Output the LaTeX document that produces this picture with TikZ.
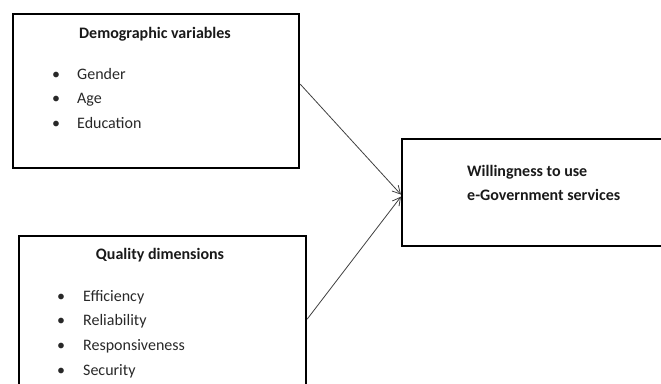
\documentclass[tikz,border=0pt]{standalone}
\usepackage{fontspec}
\setmainfont{Carlito}
\usepackage{xcolor}
\definecolor{ink}{RGB}{40,40,40}
\usetikzlibrary{arrows.meta, positioning}

\begin{document}
\begin{tikzpicture}[
  x = 1pt, y = -1pt,
  box/.style   = {rectangle, draw=black, line width=2.2pt, inner sep=0pt,
                  anchor=north west},
  title/.style = {font=\fontsize{16}{19}\selectfont\bfseries, text=black!90,
                  anchor=base, inner sep=0pt},
  item/.style  = {font=\fontsize{16}{19}\selectfont, text=ink,
                  anchor=base west, inner sep=0pt},
  arr/.style   = {-{Straight Barb[length=2.8mm, width=3mm]}, line width=0.8pt,
                  black!75},
]
\useasboundingbox (0,0) rectangle (661,383);
\clip (0,0) rectangle (661,383);
% boxes
\node[box, minimum width=286pt, minimum height=154pt] (dem)  at (12,13)  {};
\node[box, minimum width=287pt, minimum height=166pt] (qual) at (18,235) {};
\node[box, minimum width=300pt, minimum height=107pt] (will) at (401,138) {};
% texts
\node[title] (demtitle) at (155,38) {Demographic variables};
\node[item] (gender) at (52,79)    {\makebox[25pt][l]{\textbullet}Gender};
\node[item] (age)    at (52,103.5) {\makebox[25pt][l]{\textbullet}Age};
\node[item] (edu)    at (52,128)   {\makebox[25pt][l]{\textbullet}Education};
\node[title] (qualtitle) at (160,259) {Quality dimensions};
\node[item] (effic)  at (57,301) {\makebox[26pt][l]{\textbullet}Efficiency};
\node[item] (relia)  at (57,325) {\makebox[26pt][l]{\textbullet}Reliability};
\node[item] (resp)   at (57,350) {\makebox[26pt][l]{\textbullet}Responsiveness};
\node[item] (secur)  at (57,375) {\makebox[26pt][l]{\textbullet}Security};
\node[title, anchor=base west] (willa) at (467,176) {Willingness to use};
\node[title, anchor=base west] (willb) at (467,200) {e-Government services};
% connectors
\draw[arr] ([yshift=7pt]dem.east) -- ([yshift=-2pt]will.west);
\draw[arr] (qual.east) -- ([yshift=-4pt]will.west);
\end{tikzpicture}
\end{document}
